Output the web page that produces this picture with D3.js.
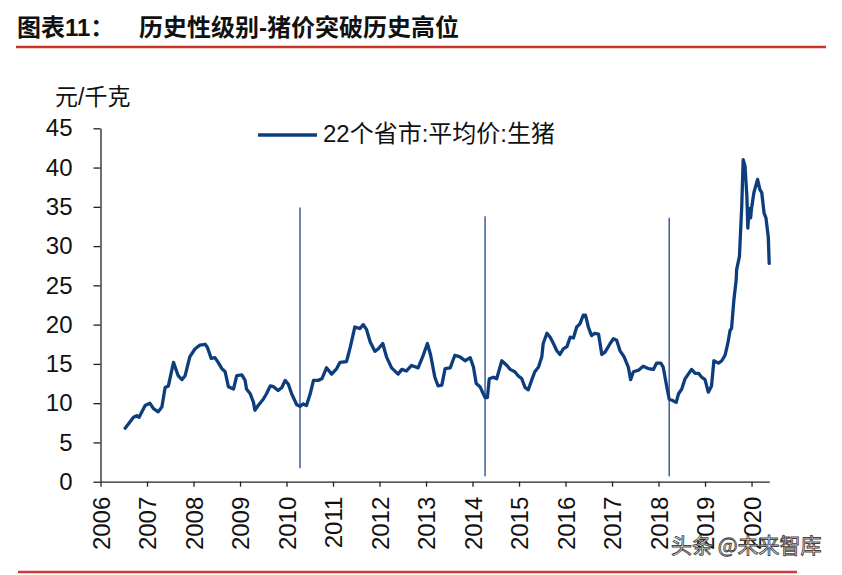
<!DOCTYPE html>
<html>
<head>
<meta charset="utf-8">
<script src="https://cdnjs.cloudflare.com/ajax/libs/d3/7.8.5/d3.min.js"></script>
<style>
  body { margin: 0; background: #fff; }
  svg { display: block; }
</style>
</head>
<body>
<svg id="chart" width="842" height="575"></svg>
<script>
// 22个省市生猪平均价，读图估计（年份为小数年）
var dates = [
  2006.53, 2006.71, 2006.78, 2006.83, 2006.96, 2007.06, 2007.14, 2007.24, 2007.32, 2007.39,
  2007.46, 2007.57, 2007.67, 2007.75, 2007.82, 2007.92, 2008.03, 2008.14, 2008.25, 2008.30,
  2008.38, 2008.46, 2008.53, 2008.61, 2008.68, 2008.75, 2008.86, 2008.93, 2009.04, 2009.11,
  2009.14, 2009.22, 2009.29, 2009.32, 2009.39, 2009.50, 2009.57, 2009.65, 2009.72, 2009.82,
  2009.90, 2009.97, 2010.04, 2010.11, 2010.22, 2010.29, 2010.36, 2010.43, 2010.51, 2010.58,
  2010.68, 2010.76, 2010.86, 2010.97, 2011.08, 2011.15, 2011.29, 2011.37, 2011.47, 2011.58,
  2011.65, 2011.72, 2011.80, 2011.90, 2011.97, 2012.07, 2012.15, 2012.26, 2012.40, 2012.48,
  2012.58, 2012.69, 2012.83, 2012.94, 2013.03, 2013.10, 2013.19, 2013.26, 2013.34, 2013.41,
  2013.52, 2013.62, 2013.73, 2013.84, 2013.95, 2014.02, 2014.08, 2014.16, 2014.27, 2014.32,
  2014.36, 2014.45, 2014.52, 2014.63, 2014.74, 2014.81, 2014.91, 2014.98, 2015.06, 2015.13,
  2015.20, 2015.27, 2015.34, 2015.42, 2015.49, 2015.52, 2015.60, 2015.67, 2015.74, 2015.81,
  2015.88, 2015.95, 2016.03, 2016.10, 2016.17, 2016.24, 2016.31, 2016.38, 2016.43, 2016.49,
  2016.56, 2016.63, 2016.71, 2016.78, 2016.85, 2016.96, 2017.03, 2017.10, 2017.17, 2017.26,
  2017.35, 2017.40, 2017.46, 2017.57, 2017.67, 2017.78, 2017.89, 2017.96, 2018.05, 2018.10,
  2018.14, 2018.18, 2018.23, 2018.28, 2018.38, 2018.43, 2018.50, 2018.57, 2018.64, 2018.71,
  2018.79, 2018.86, 2018.93, 2019.00, 2019.07, 2019.14, 2019.19, 2019.29, 2019.36, 2019.43,
  2019.49, 2019.54, 2019.57, 2019.62, 2019.67, 2019.68, 2019.74, 2019.79, 2019.82, 2019.86,
  2019.90, 2019.92, 2019.95, 2019.98, 2020.00, 2020.05, 2020.13, 2020.18, 2020.22, 2020.27,
  2020.31, 2020.36, 2020.38
];
var prices = [
  6.8, 8.2, 8.4, 8.2, 9.7, 10.0, 9.3, 8.9, 9.5, 12.0,
  12.2, 15.2, 13.5, 13.0, 13.5, 15.9, 16.9, 17.4, 17.5, 17.1,
  15.7, 15.8, 15.2, 14.4, 14.0, 12.1, 11.8, 13.5, 13.6, 12.9,
  11.8, 11.2, 10.1, 9.1, 9.7, 10.5, 11.2, 12.2, 12.1, 11.6,
  12.0, 12.9, 12.4, 11.2, 9.8, 9.6, 9.9, 9.7, 11.2, 12.9,
  12.9, 13.1, 14.5, 13.7, 14.4, 15.2, 15.3, 17.1, 19.7, 19.5,
  20.0, 19.4, 17.8, 16.6, 16.9, 17.6, 15.9, 14.5, 13.7, 14.3,
  14.1, 14.8, 14.5, 16.1, 17.6, 16.1, 13.3, 12.2, 12.3, 14.4,
  14.5, 16.1, 15.9, 15.4, 15.8, 14.6, 12.5, 12.1, 10.7, 10.7,
  13.1, 13.3, 13.1, 15.4, 14.8, 14.3, 14.0, 13.5, 13.1, 12.0,
  11.7, 12.9, 14.0, 14.6, 15.9, 17.6, 18.9, 18.4, 17.6, 16.7,
  16.2, 16.9, 17.2, 18.4, 18.3, 19.7, 20.1, 21.2, 21.2, 19.7,
  18.6, 18.9, 18.8, 16.2, 16.5, 17.6, 18.2, 18.0, 16.7, 15.9,
  14.6, 13.0, 14.0, 14.2, 14.7, 14.4, 14.3, 15.1, 15.1, 14.6,
  13.3, 12.0, 10.5, 10.4, 10.1, 11.2, 11.8, 13.1, 13.7, 14.3,
  13.8, 13.8, 13.3, 13.0, 11.4, 12.2, 15.4, 15.1, 15.4, 16.1,
  17.6, 19.3, 19.5, 23.1, 25.7, 27.0, 28.7, 35.1, 41.0, 40.2,
  36.3, 32.3, 34.8, 33.6, 34.8, 36.8, 38.5, 37.2, 36.8, 34.2,
  33.6, 31.2, 27.8
];
var yearTicks = d3.range(2006, 2021);
var yTicks = d3.range(0, 50, 5);
// 三条竖线：历史周期低点
var markYears = [2010.29, 2014.27, 2018.23];
var markTop = [34.9, 33.8, 33.6];
var markBottom = [1.7, 0.7, 0.7];

var titleText = "图表11：";
var titleRest = "历史性级别-猪价突破历史高位";
var unitText = "元/千克";
var seriesName = "22个省市:平均价:生猪";
var sourceMark = "头条 @未来智库";

var lineColor = "#0d3d7d";
var numFont = "'Liberation Sans', Arial, sans-serif";
var cjkFont = "'Liberation Sans', 'Noto Sans CJK SC', sans-serif";

var svg = d3.select("#chart");

var x = d3.scaleLinear().domain([2006, 2020.38]).range([100.5, 769.2]);
var y = d3.scaleLinear().domain([0, 45]).range([481.7, 128.3]);

// title + red rules
var title = svg.append("text")
  .attr("x", 17).attr("y", 30)
  .attr("dominant-baseline", "middle")
  .attr("font-family", cjkFont)
  .attr("font-weight", "bold")
  .attr("font-size", 24)
  .attr("fill", "#111");
title.append("tspan").text(titleText);
title.append("tspan").attr("x", 139).text(titleRest);

svg.append("line")
  .attr("x1", 16).attr("x2", 826).attr("y1", 47).attr("y2", 47)
  .attr("stroke", "#c8352b").attr("stroke-width", 2.5);

svg.append("line")
  .attr("x1", 18).attr("x2", 797).attr("y1", 572).attr("y2", 572)
  .attr("stroke", "#d8382c").attr("stroke-width", 2.5);

// axes
var yAxis = svg.append("g")
  .attr("transform", "translate(" + x(2006) + ",0)")
  .call(d3.axisLeft(y).tickValues(yTicks).tickSize(7).tickSizeOuter(0).tickPadding(21));

yAxis.selectAll("text")
  .attr("font-family", numFont)
  .attr("font-size", 24)
  .attr("fill", "#111");

var xAxis = svg.append("g")
  .attr("transform", "translate(0," + y(0) + ")")
  .call(d3.axisBottom(x).tickValues(yearTicks).tickSize(5).tickSizeOuter(0)
    .tickFormat(d3.format("d")));

xAxis.selectAll("text")
  .attr("font-family", numFont)
  .attr("font-size", 24)
  .attr("fill", "#111")
  .attr("text-anchor", "end")
  .attr("transform", "rotate(-90)")
  .attr("x", -15)
  .attr("y", 0)
  .attr("dy", "0.36em");

svg.selectAll(".domain, .tick line")
  .attr("stroke", "#222")
  .attr("stroke-width", 1.3);

// unit label
svg.append("text")
  .attr("x", 55).attr("y", 99)
  .attr("dominant-baseline", "middle")
  .attr("font-family", cjkFont)
  .attr("font-size", 23)
  .attr("fill", "#111")
  .text(unitText);

// marker lines
svg.selectAll(".mark")
  .data(markYears)
  .enter()
  .append("line")
  .attr("class", "mark")
  .attr("x1", function(d) { return x(d); })
  .attr("x2", function(d) { return x(d); })
  .attr("y1", function(d, i) { return y(markTop[i]); })
  .attr("y2", function(d, i) { return y(markBottom[i]); })
  .attr("stroke", "#3d5f99")
  .attr("stroke-width", 1.5);

// price line
var points = dates.map(function(d, i) { return [d, prices[i]]; });

svg.append("path")
  .datum(points)
  .attr("fill", "none")
  .attr("stroke", lineColor)
  .attr("stroke-width", 3.3)
  .attr("stroke-linejoin", "round")
  .attr("stroke-linecap", "round")
  .attr("d", d3.line()
    .x(function(d) { return x(d[0]); })
    .y(function(d) { return y(d[1]); }));

// legend
svg.append("line")
  .attr("x1", 258).attr("x2", 317).attr("y1", 135).attr("y2", 135)
  .attr("stroke", lineColor).attr("stroke-width", 3.3);

svg.append("text")
  .attr("x", 323).attr("y", 136)
  .attr("dominant-baseline", "middle")
  .attr("font-family", cjkFont)
  .attr("font-size", 24)
  .attr("fill", "#111")
  .text(seriesName);

// watermark
svg.append("text")
  .attr("x", 671).attr("y", 547)
  .attr("dominant-baseline", "middle")
  .attr("font-family", "'Noto Sans CJK SC', sans-serif")
  .attr("font-size", 21)
  .attr("fill", "#fff")
  .attr("stroke", "#444")
  .attr("stroke-width", 0.9)
  .text(sourceMark);
</script>
</body>
</html>
